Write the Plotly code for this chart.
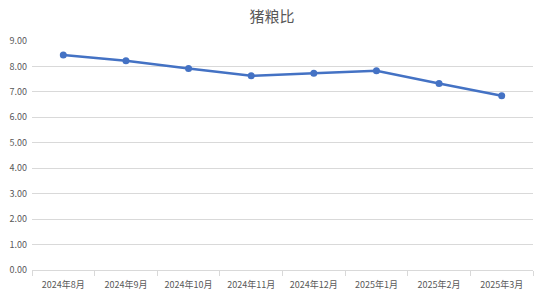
import plotly.graph_objects as go

categories = ["2024年8月", "2024年9月", "2024年10月", "2024年11月", "2024年12月", "2025年1月", "2025年2月", "2025年3月"]
values = [8.45, 8.22, 7.92, 7.63, 7.73, 7.83, 7.33, 6.85]
y_ticks = [0, 1, 2, 3, 4, 5, 6, 7, 8, 9]

fig = go.Figure()
fig.add_trace(go.Scatter(
    x=categories, y=values, mode="lines+markers",
    line=dict(color="#4472C4", width=2.5),
    marker=dict(color="#4472C4", size=7),
    showlegend=False,
))
fig.update_layout(
    width=544, height=298,
    margin=dict(l=32, r=11, t=41, b=28),
    paper_bgcolor="white", plot_bgcolor="white",
    title=dict(text="猪粮比", x=0.5, xanchor="center", y=0.945, yanchor="middle",
               font=dict(family="Noto Sans CJK SC", size=15, color="#595959")),
    font=dict(family="Noto Sans CJK SC", size=9, color="#595959"),
)
fig.update_xaxes(
    type="category", showgrid=False, showline=True, linecolor="#D9D9D9", linewidth=1,
    ticks="outside", tickson="boundaries", ticklen=5, tickcolor="#D9D9D9",
    tickfont=dict(size=9, color="#595959"), range=[-0.5, 7.5], automargin=False,
    ticklabelstandoff=6,
)
fig.update_yaxes(
    range=[0, 9], tickvals=y_ticks, tickformat=".2f", showgrid=True, gridcolor="#D9D9D9",
    gridwidth=1, zeroline=False, showline=False, ticks="", tickfont=dict(size=9, color="#595959"),
    automargin=False, ticklabelstandoff=4,
)
fig.write_html("out.html")
